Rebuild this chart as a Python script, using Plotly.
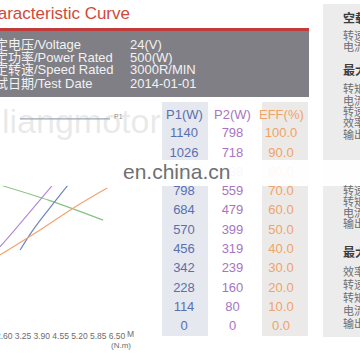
import plotly.graph_objects as go

# ---------------- data ----------------
info_labels = ["额定电压/Voltage", "额定功率/Power Rated", "额定转速/Speed Rated", "测试日期/Test Date"]
info_values = ["24(V)", "500(W)", "3000R/MIN", "2014-01-01"]

table_headers = ["P1(W)", "P2(W)", "EFF(%)"]
p1_vals = [0, 114, 228, 342, 456, 570, 684, 798, 912, 1026, 1140]
p2_vals = [0, 80, 160, 239, 319, 399, 479, 559, 638, 718, 798]
eff_vals = [0.0, 10.0, 20.0, 30.0, 40.0, 50.0, 60.0, 70.0, 80.0, 90.0, 100.0]

torque_ticks = [2.60, 3.25, 3.90, 4.55, 5.20, 5.85, 6.50]
torque_labels = ["2.60", "3.25", "3.90", "4.55", "5.20", "5.85", "6.50"]

# curves (torque N.m, % of scale)
green_t = [2.45, 4.18, 6.02]
green_v = [73.6, 65.5, 55.4]
purple_t = [2.45, 2.90, 3.49, 4.25]
purple_v = [41.5, 49.2, 59.6, 73.1]
blue_t = [3.15, 3.60, 4.18, 4.81]
blue_v = [39.9, 50.3, 61.7, 73.6]
orange_t = [2.45, 3.84, 5.05, 6.16]
orange_v = [37.3, 50.3, 62.2, 72.0]
p1_line_t = [3.15, 6.26]
p1_line_v = [107.8, 107.8]

panel_items = [
    ("<b>空载点</b>", 17), ("转速 n0", 35), ("电流 I0", 46),
    ("<b>最大输出功率点</b>", 70), ("转矩 T", 88), ("电流 I", 100), ("转速 n", 111),
    ("效率 η", 122), ("输出功率 P2", 134),
    ("转速 n", 190), ("转矩 T", 201), ("电流 I", 212), ("输出功率 P2", 223),
    ("<b>最大效率点</b>", 252), ("效率 η", 271), ("转速 n", 284), ("转矩 T", 297),
    ("电流 I", 310), ("输出功率 P2", 323),
]

W = H = 360
def PX(x):
    return x / W
def PY(y):
    return 1 - y / H

FONT = "Liberation Sans, Arial, Noto Sans CJK SC, sans-serif"
NARROW = "Liberation Sans Narrow, Arial Narrow, Liberation Sans, Arial"
C_P1 = "#5b6fae"
C_P2 = "#a875c0"
C_EFF = "#f0a366"

fig = go.Figure()

# chart curves
for t, v, c in [(green_t, green_v, "#86c281"), (purple_t, purple_v, "#b38bd6"),
                (blue_t, blue_v, "#6f85c2"), (orange_t, orange_v, "#f2a36f"),
                (p1_line_t, p1_line_v, "#9aa6b8")]:
    fig.add_trace(go.Scatter(x=t, y=v, mode="lines", line=dict(color=c, width=1.2, shape="spline"),
                             hoverinfo="skip", xaxis="x", yaxis="y"))

# table columns
for i, (vals, col, fmt) in enumerate([(p1_vals, C_P1, "{}"), (p2_vals, C_P2, "{}"), (eff_vals, C_EFF, "{:.1f}")]):
    fig.add_trace(go.Scatter(x=[i] * len(vals), y=eff_vals, mode="text",
                             text=[fmt.format(v) for v in vals],
                             textfont=dict(color=col, size=13, family=FONT),
                             hoverinfo="skip", xaxis="x2", yaxis="y"))

ydom = [PY(340), PY(100)]
yr = [(327 - 340) / 1.93, (327 - 100) / 1.93]
k = 3.25 / 94
t0 = 3.25 - 23 * k

fig.update_layout(
    width=W, height=H, margin=dict(l=0, r=0, t=0, b=0, autoexpand=False),
    paper_bgcolor="white", plot_bgcolor="rgba(0,0,0,0)", showlegend=False,
    xaxis=dict(domain=[0, PX(162)], range=[t0, t0 + 162 * k], anchor="free", position=PY(329),
               tickvals=torque_ticks, ticktext=torque_labels, tickangle=0, showgrid=False,
               zeroline=False, showline=False, ticks="", ticklabeloverflow="allow",
               automargin=False,
               tickfont=dict(size=8.5, color="#6c6c6c", family=NARROW)),
    yaxis=dict(domain=ydom, range=yr, visible=False, showgrid=False, automargin=False),
    xaxis2=dict(domain=[PX(159.75), PX(305.25)], range=[-0.5, 2.5], anchor="y", visible=False,
                automargin=False),
)

shapes = []
def rect(x0, y0, x1, y1, color, layer="below", opacity=1.0):
    shapes.append(dict(type="rect", xref="paper", yref="paper", x0=PX(x0), x1=PX(x1),
                       y0=PY(y1), y1=PY(y0), fillcolor=color, line=dict(width=0),
                       layer=layer, opacity=opacity))

rect(0, 28, 309, 31, "#c23b3b")
rect(0, 31, 309, 97, "#807f85")
rect(162, 102, 208, 336, "#e5e8ef")
rect(262, 102, 308, 336, "#ebeae9")
rect(323, 4, 362, 337, "#ececec")
rect(0, 160, 360, 186, "white", layer="above", opacity=0.93)
fig.update_layout(shapes=shapes)

ann = []
ann.append(dict(text="Characteristic Curve", x=PX(132), y=PY(14), xref="paper", yref="paper",
                xanchor="right", yanchor="middle", showarrow=False,
                font=dict(size=17, color="#d0493a", family=FONT)))
for i, (lab, val) in enumerate(zip(info_labels, info_values)):
    yy = [44, 57, 70, 83][i]
    ann.append(dict(text=lab, x=PX(-20), y=PY(yy), xref="paper", yref="paper", xanchor="left",
                    yanchor="middle", showarrow=False, font=dict(size=13, color="#f2f2f2", family=FONT)))
    ann.append(dict(text=val, x=PX(128), y=PY(yy), xref="paper", yref="paper", xanchor="left",
                    yanchor="middle", showarrow=False, font=dict(size=13, color="#f2f2f2", family=FONT)))
for i, (h, c) in enumerate(zip(table_headers, [C_P1, C_P2, C_EFF])):
    ann.append(dict(text=h, x=i, y=110, xref="x2", yref="y", showarrow=False,
                    font=dict(size=13, color=c, family=FONT)))
for txt, yy in panel_items:
    bold = txt.startswith("<b>")
    ann.append(dict(text=txt, x=PX(341), y=PY(yy), xref="paper", yref="paper", xanchor="left",
                    yanchor="middle", showarrow=False,
                    font=dict(size=12 if bold else 11, color="#3c3c3c" if bold else "#6e6e6e",
                              family="Noto Sans CJK SC, sans-serif")))
ann.append(dict(text="M", x=PX(125), y=PY(334), xref="paper", yref="paper", xanchor="left",
                yanchor="middle", showarrow=False, font=dict(size=8.5, color="#6c6c6c", family=NARROW)))
ann.append(dict(text="(N.m)", x=PX(133), y=PY(345), xref="paper", yref="paper", xanchor="right",
                yanchor="middle", showarrow=False, font=dict(size=8, color="#6c6c6c", family=NARROW)))
ann.append(dict(text="P1", x=PX(112), y=PY(117), xref="paper", yref="paper", xanchor="left",
                yanchor="middle", showarrow=False, font=dict(size=7, color="#8a8a8a", family=FONT)))
ann.append(dict(text="liangmotor", x=PX(0), y=PY(121), xref="paper", yref="paper", xanchor="left",
                yanchor="middle", showarrow=False, font=dict(size=34, color="rgba(170,170,170,0.25)", family=FONT)))
ann.append(dict(text="en.china.cn", x=PX(121), y=PY(171), xref="paper", yref="paper", xanchor="left",
                yanchor="middle", showarrow=False, font=dict(size=21, color="#707070", family=FONT)))
fig.update_layout(annotations=ann)

fig.write_html("out.html")
